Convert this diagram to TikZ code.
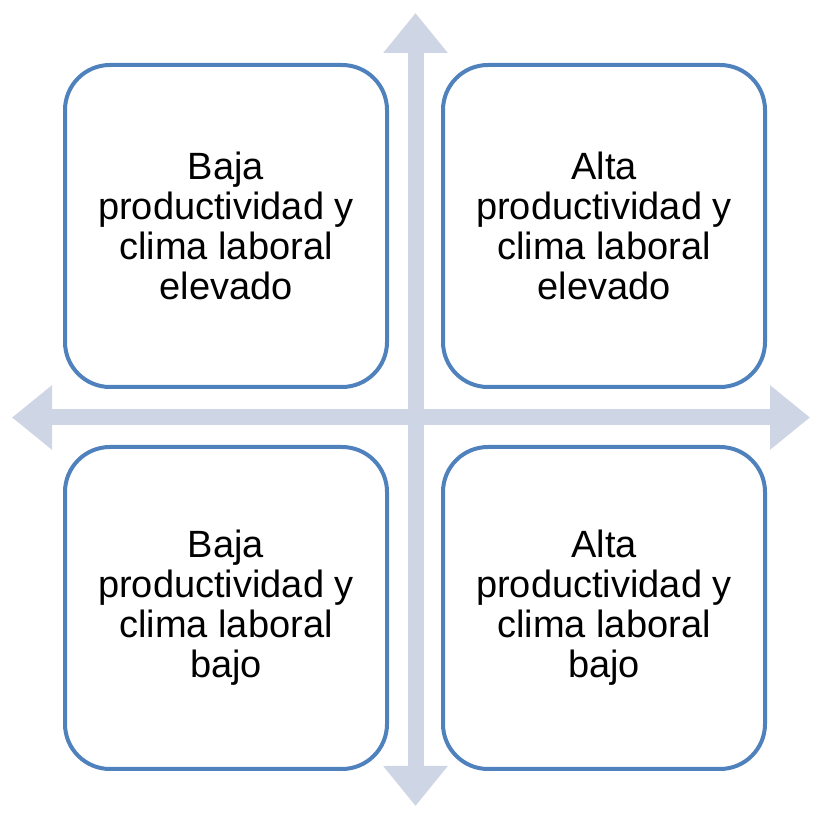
\documentclass[tikz,border=0pt]{standalone}
\usepackage{fontspec}
\setmainfont{Liberation Sans}
\usepackage{tikz}
\usetikzlibrary{arrows.meta,positioning}
\definecolor{ejecolor}{RGB}{206,213,229}
\definecolor{bordecolor}{RGB}{79,129,189}

\begin{document}
\begin{tikzpicture}[x=1pt, y=1pt,
  quad/.style={rectangle, draw=bordecolor, line width=4pt, fill=white, rounded corners=45pt,
    minimum width=322pt, minimum height=322pt, align=center,
    font=\fontsize{38}{40}\selectfont},
  eje/.style={draw=ejecolor, line width=16pt,
    {Triangle[width=62pt, length=40pt]}-{Triangle[width=62pt, length=40pt]}}]
\useasboundingbox (0,0) rectangle (814,818);
% ejes
\coordinate (arriba) at (415.5,805);
\coordinate (abajo) at (415.5,12);
\coordinate (izq) at (12,400.5);
\coordinate (der) at (810,400.5);
\draw[eje] (abajo) -- (arriba);
\draw[eje] (izq) -- (der);
% cuadrantes
\node[quad] (bajaelevado) at (226,592) {Baja\\productividad y\\clima laboral\\elevado};
\node[quad, right=52pt of bajaelevado] (altaelevado) {Alta\\productividad y\\clima laboral\\elevado};
\node[quad, below=56pt of bajaelevado] (bajabajo) {Baja\\productividad y\\clima laboral\\bajo};
\node[quad, right=52pt of bajabajo] (altabajo) {Alta\\productividad y\\clima laboral\\bajo};
\end{tikzpicture}
\end{document}
